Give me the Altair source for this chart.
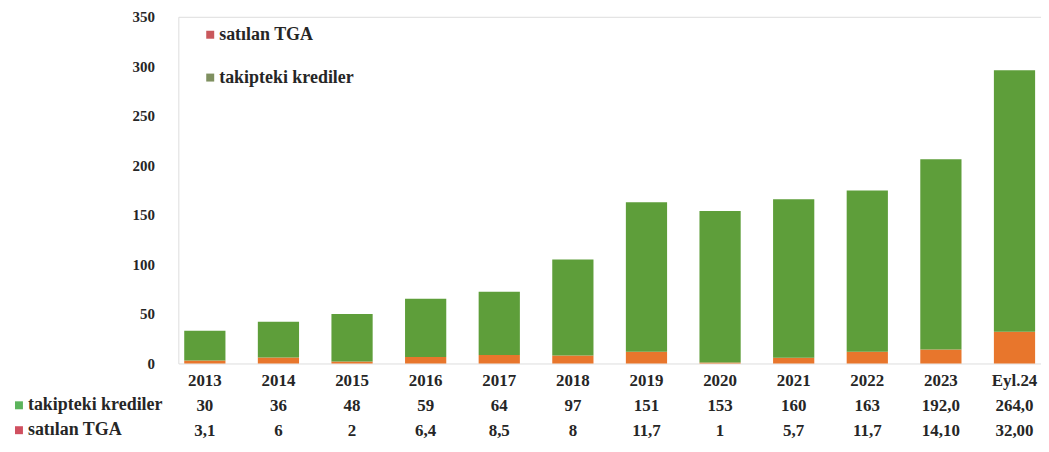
import altair as alt
import pandas as pd

years = ["2013", "2014", "2015", "2016", "2017", "2018", "2019", "2020", "2021", "2022", "2023", "Eyl.24"]
takipteki = [30, 36, 48, 59, 64, 97, 151, 153, 160, 163, 192.0, 264.0]
satilan = [3.1, 6, 2, 6.4, 8.5, 8, 11.7, 1, 5.7, 11.7, 14.10, 32.00]
takipteki_lbl = ["30", "36", "48", "59", "64", "97", "151", "153", "160", "163", "192,0", "264,0"]
satilan_lbl = ["3,1", "6", "2", "6,4", "8,5", "8", "11,7", "1", "5,7", "11,7", "14,10", "32,00"]
series = ["satılan TGA", "takipteki krediler"]
bar_colors = ["#e8762c", "#5e9e3a"]
legend_swatch = ["#c9585c", "#7f9060"]
row_swatch = ["#d05060", "#5cb45c"]

FONT = "Liberation Serif"
TXT = "#262626"

rows = []
for i, y in enumerate(years):
    rows.append({"year": y, "series": series[0], "value": satilan[i], "ord": 0})
    rows.append({"year": y, "series": series[1], "value": takipteki[i], "ord": 1})
df = pd.DataFrame(rows)

tbl = pd.DataFrame({"year": years, "k": takipteki_lbl, "s": satilan_lbl})

W, H = 866, 348

xscale = alt.Scale(domain=years, paddingInner=0.44, paddingOuter=0.08)

bars = alt.Chart(df).mark_bar().encode(
    x=alt.X("year:N", scale=xscale, sort=years,
            axis=alt.Axis(title=None, labelAngle=0, domain=False, ticks=False,
                          labelFont=FONT, labelFontWeight="bold", labelFontSize=17,
                          labelColor=TXT, labelPadding=9)),
    y=alt.Y("value:Q", stack="zero", scale=alt.Scale(domain=[0, 350]),
            axis=alt.Axis(title=None, values=[0, 50, 100, 150, 200, 250, 300, 350],
                          domain=False, ticks=False, grid=False,
                          labelFont=FONT, labelFontWeight="bold", labelFontSize=15,
                          labelColor=TXT, labelPadding=24)),
    color=alt.Color("series:N", scale=alt.Scale(domain=series, range=bar_colors), legend=None),
    order=alt.Order("ord:Q"),
)

row_k = alt.Chart(tbl).mark_text(font=FONT, fontWeight="bold", fontSize=17, color=TXT,
                                 baseline="middle").encode(
    x=alt.X("year:N", scale=xscale, sort=years), y=alt.value(391), text="k:N")
row_s = alt.Chart(tbl).mark_text(font=FONT, fontWeight="bold", fontSize=17, color=TXT,
                                 baseline="middle").encode(
    x=alt.X("year:N", scale=xscale, sort=years), y=alt.value(416), text="s:N")


def label(name, xpos, ypos, sw_x, sw_col):
    d = pd.DataFrame({"name": [name]})
    t = alt.Chart(d).mark_text(font=FONT, fontWeight="bold", fontSize=18, color=TXT,
                               align="left", baseline="middle").encode(
        x=alt.value(xpos), y=alt.value(ypos), text="name:N")
    s = alt.Chart(d).mark_square(size=64, opacity=1, color=sw_col).encode(
        x=alt.value(sw_x), y=alt.value(ypos))
    return [t, s]


extra = []
extra += label(series[1], -151, 390, -160, row_swatch[1])
extra += label(series[0], -151, 415, -160, row_swatch[0])
extra += label(series[0], 41, 18, 32, legend_swatch[0])
extra += label(series[1], 41, 61, 32, legend_swatch[1])

chart = alt.layer(bars, row_k, row_s, *extra).properties(
    width=W, height=H,
    autosize=alt.AutoSizeParams(type="none"),
    padding={"left": 171, "top": 8, "right": 0, "bottom": 76},
).configure_view(strokeWidth=0, stroke="#ffffff").configure_axis(
    domain=False, grid=False, ticks=False
).configure(background="white")

chart.save("out.html", embed_options={"renderer": "svg", "actions": False})
